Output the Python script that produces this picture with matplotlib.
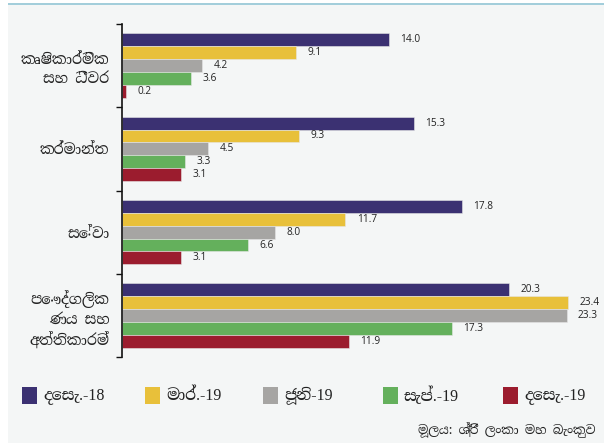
import matplotlib
matplotlib.use("Agg")
import matplotlib.pyplot as plt
from matplotlib.patches import Rectangle
from matplotlib import font_manager
import numpy as np

categories = ["කෘෂිකාර්මික\nසහ ධීවර", "කර්මාන්ත", "සේවා", "පෞද්ගලික\nණය සහ\nඅත්තිකාරම්"]
series_names = ["දෙසැ.-18", "මාර්.-19", "ජූනි-19", "සැප්.-19", "දෙසැ.-19"]
dec18 = [14.0, 15.3, 17.8, 20.3]
mar19 = [9.1, 9.3, 11.7, 23.4]
jun19 = [4.2, 4.5, 8.0, 23.3]
sep19 = [3.6, 3.3, 6.6, 17.3]
dec19 = [0.2, 3.1, 3.1, 11.9]
source_text = "මූලය: ශ්‍රී ලංකා මහ බැංකුව"

# look for any installed family that covers Sinhala
families = []
try:
    from fontTools.ttLib import TTFont
    for f in font_manager.fontManager.ttflist:
        try:
            tt = TTFont(f.fname, fontNumber=0, lazy=True)
            cmap = tt.getBestCmap() or {}
            if 0x0D9A in cmap and f.name not in families:
                families.append(f.name)
        except Exception:
            pass
except Exception:
    pass

def rank(n):
    nl = n.lower()
    r = 0
    if "mono" in nl or "code" in nl:
        r += 10
    if "sinhala" in nl:
        r -= 5
    if "serif" in nl and "sans" not in nl:
        r -= 1
    return r

families.sort(key=rank)
sinhala = families + ['DejaVu Sans']
num_font = ['Liberation Serif'] + families + ['DejaVu Sans']
plt.rcParams['font.family'] = sinhala

series = [dec18, mar19, jun19, sep19, dec19]
colors = ["#3b3172", "#e8c03a", "#a6a5a3", "#64b05c", "#9b1c2e"]

W, H = 604, 443
fig = plt.figure(figsize=(W / 100, H / 100), dpi=100)
fig.patch.set_facecolor("white")
fig.patches.append(Rectangle((8 / W, 0), 1 - 8 / W, 1 - 5 / H, transform=fig.transFigure,
                             facecolor="#f4f6f6", edgecolor="none", zorder=-5))
fig.patches.append(Rectangle((8 / W, 1 - 5 / H), 1 - 8 / W, 2 / H, transform=fig.transFigure,
                             facecolor="#a3cedb", edgecolor="none", zorder=-5))

ax = fig.add_axes([122 / W, 1 - 357 / H, 477 / W, 333 / H])
ax.set_facecolor("none")

bh = 0.155
y = np.arange(len(categories))
for i, (vals, c) in enumerate(zip(series, colors)):
    pos = y - 2 * bh + i * bh
    ax.barh(pos, vals, height=bh, color=c, edgecolor="#e6e6e6", linewidth=0.4,
            label=series_names[i])
    for p, v in zip(pos, vals):
        ax.text(v + 0.6, p, f"{v:.1f}", va="center", ha="left", fontsize=7.3,
                color="#222222", family=['Open Sans', 'DejaVu Sans'])

ax.set_xlim(0, 25)
ax.set_ylim(len(categories) - 0.5, -0.5)
for s in ["top", "right", "bottom"]:
    ax.spines[s].set_visible(False)
ax.spines["left"].set_color("#111111")
ax.spines["left"].set_linewidth(1.2)
ax.set_xticks([])
ax.set_yticks(np.arange(len(categories) + 1) - 0.5)
ax.set_yticklabels([])
ax.tick_params(axis="y", length=4, width=1, color="#111111")
ax.set_yticks(y, minor=True)
ax.set_yticklabels(categories, minor=True, fontsize=10.5, color="#222222", linespacing=1.4)
ax.tick_params(axis="y", which="minor", length=0, pad=9)

xs = [22, 145, 263, 383, 503]
for x0, c, name in zip(xs, colors, series_names):
    fig.patches.append(Rectangle((x0 / W, 1 - 404 / H), 15 / W, 17 / H, transform=fig.transFigure,
                                 facecolor=c, edgecolor="none"))
    fig.text((x0 + 21) / W, 1 - 396 / H, name, fontsize=11.5, va="center", ha="left",
             color="#222222", family=num_font)

fig.text(596 / W, 1 - 430 / H, source_text, fontsize=9, ha="right", va="center", color="#222222")

fig.savefig("out.png", dpi=100)
